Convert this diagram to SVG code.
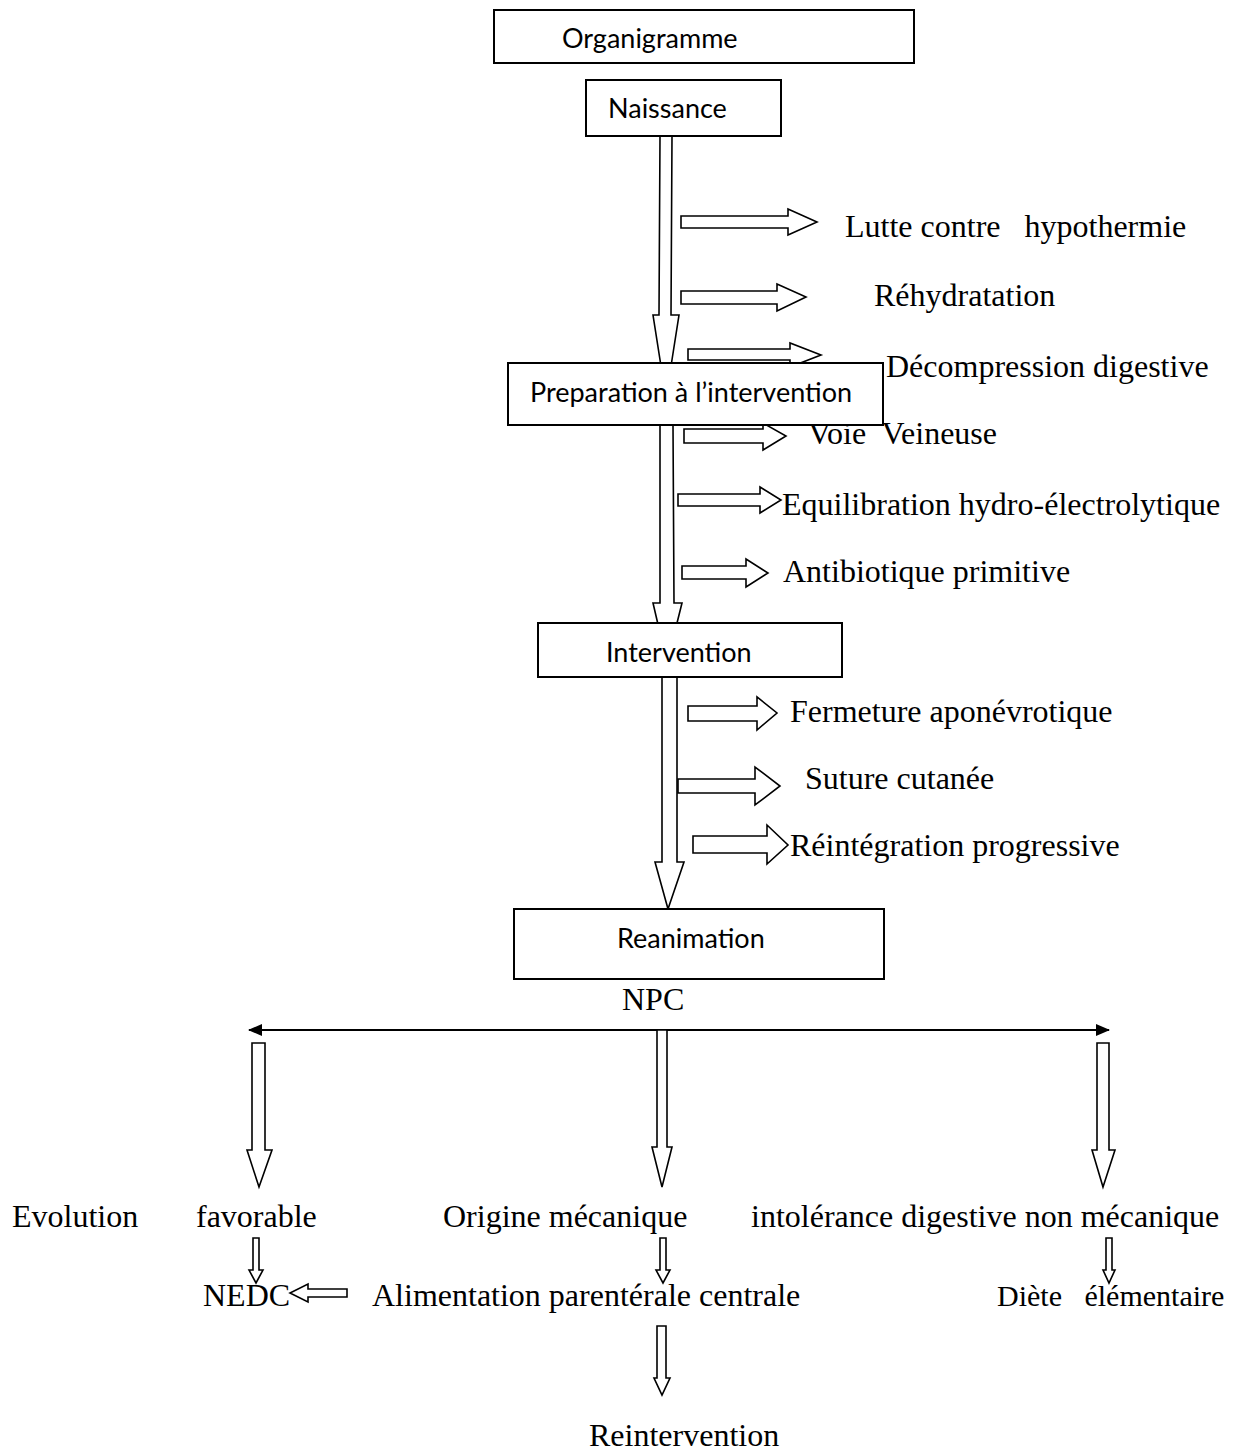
<svg xmlns="http://www.w3.org/2000/svg" width="1234" height="1452" viewBox="0 0 1234 1452">
<defs>
<style>
.box{fill:#fff;stroke:#000;stroke-width:2}
.bt{font-family:Lato,"Open Sans","Liberation Sans",sans-serif;font-size:27px;fill:#000}
.t{font-family:"Liberation Serif","Times New Roman",serif;font-size:32px;fill:#000}
.ar{fill:#fff;stroke:#000;stroke-width:1.6;stroke-linejoin:miter}
.ln{fill:none;stroke:#000;stroke-width:2}
</style>
<marker id="hd" viewBox="0 0 14 12" refX="13" refY="6" markerWidth="14" markerHeight="12" markerUnits="userSpaceOnUse" orient="auto-start-reverse">
<path d="M0,0 L14,6 L0,12 z" fill="#000"/>
</marker>
</defs>
<rect width="1234" height="1452" fill="#fff"/>

<g id="connectors">
<!-- main vertical block arrows -->
<polygon class="ar" points="660,136 672,136 671,315 679,315 666,398 653,315 659,315"/>
<polygon class="ar" points="660,425 673,425 674,603 682,603 667,663 653,603 660,603"/>
<polygon class="ar" points="662,677 677,677 677,862 684,862 668,909 655,862 662,862"/>
<!-- side arrows -->
<polygon class="ar" points="681,216 788,216 788,209 817,222 788,235 788,228 681,228"/>
<polygon class="ar" points="681,291 777,291 777,284 806,297 777,311 777,304 681,304"/>
<polygon class="ar" points="688,349 790,349 790,343 821,355 790,367 790,360 688,360"/>
<polygon class="ar" points="684,429 763,429 763,423 786,436 763,450 763,443 684,443"/>
<polygon class="ar" points="678,494 760,494 760,487 781,500 760,513 760,506 678,506"/>
<polygon class="ar" points="682,566 746,566 746,559 768,573 746,587 746,579 682,579"/>
<polygon class="ar" points="688,706 757,706 757,697 777,713 757,730 757,721 688,721"/>
<polygon class="ar" points="678,779 755,779 755,767 780,786 755,805 755,793 678,793"/>
<polygon class="ar" points="693,836 767,836 767,825 788,845 767,864 767,853 693,853"/>
<!-- NPC split -->
<line class="ln" x1="249" y1="1030" x2="1109" y2="1030" marker-start="url(#hd)" marker-end="url(#hd)"/>
<polygon class="ar" points="657,1030 667,1030 667,1147 672,1147 662,1187 652,1147 657,1147"/>
<polygon class="ar" points="252,1043 265,1043 265,1150 272,1150 259,1187 247,1150 252,1150"/>
<polygon class="ar" points="1097,1043 1109,1043 1109,1150 1115,1150 1103,1187 1092,1150 1097,1150"/>
<!-- small arrows -->
<polygon class="ar" points="253,1238 259,1238 259,1270 263,1270 256,1283 249,1270 253,1270"/>
<polygon class="ar" points="660,1238 666,1238 666,1270 670,1270 663,1283 656,1270 660,1270"/>
<polygon class="ar" points="1106,1238 1112,1238 1112,1270 1115,1270 1109,1283 1103,1270 1106,1270"/>
<polygon class="ar" points="347,1289 308,1289 308,1284 290,1293 308,1302 308,1297 347,1297"/>
<polygon class="ar" points="657,1326 666,1326 666,1378 670,1378 662,1395 654,1378 657,1378"/>
</g>

<g id="labels">
<text class="t" x="845" y="237" xml:space="preserve">Lutte contre   hypothermie</text>
<text class="t" x="874" y="306">Réhydratation</text>
<text class="t" x="886" y="377">Décompression digestive</text>
<text class="t" x="808" y="444" xml:space="preserve">Voie  Veineuse</text>
<text class="t" x="782" y="515">Equilibration hydro-électrolytique</text>
<text class="t" x="783" y="582">Antibiotique primitive</text>
<text class="t" x="790" y="722">Fermeture aponévrotique</text>
<text class="t" x="805" y="789">Suture cutanée</text>
<text class="t" x="790" y="856">Réintégration progressive</text>
<text class="t" x="622" y="1010">NPC</text>
<text class="t" x="12" y="1227">Evolution</text>
<text class="t" x="196" y="1227">favorable</text>
<text class="t" x="443" y="1227">Origine mécanique</text>
<text class="t" x="751" y="1227">intolérance digestive non mécanique</text>
<text class="t" x="203" y="1306">NEDC</text>
<text class="t" x="372" y="1306">Alimentation parentérale centrale</text>
<text class="t" x="997" y="1306" style="font-size:30px" xml:space="preserve">Diète   élémentaire</text>
<text class="t" x="589" y="1446">Reintervention</text>
</g>

<g id="organigramme">
<rect class="box" x="494" y="10" width="420" height="53"/>
<text class="bt" x="562" y="48">Organigramme</text>
</g>
<g id="naissance">
<rect class="box" x="586" y="80" width="195" height="56"/>
<text class="bt" x="608" y="118">Naissance</text>
</g>
<g id="preparation">
<rect class="box" x="508" y="363" width="375" height="62"/>
<text class="bt" x="530" y="402">Preparation à l’intervention</text>
</g>
<g id="intervention">
<rect class="box" x="538" y="623" width="304" height="54"/>
<text class="bt" x="606" y="662">Intervention</text>
</g>
<g id="reanimation">
<rect class="box" x="514" y="909" width="370" height="70"/>
<text class="bt" x="617" y="948">Reanimation</text>
</g>
</svg>
